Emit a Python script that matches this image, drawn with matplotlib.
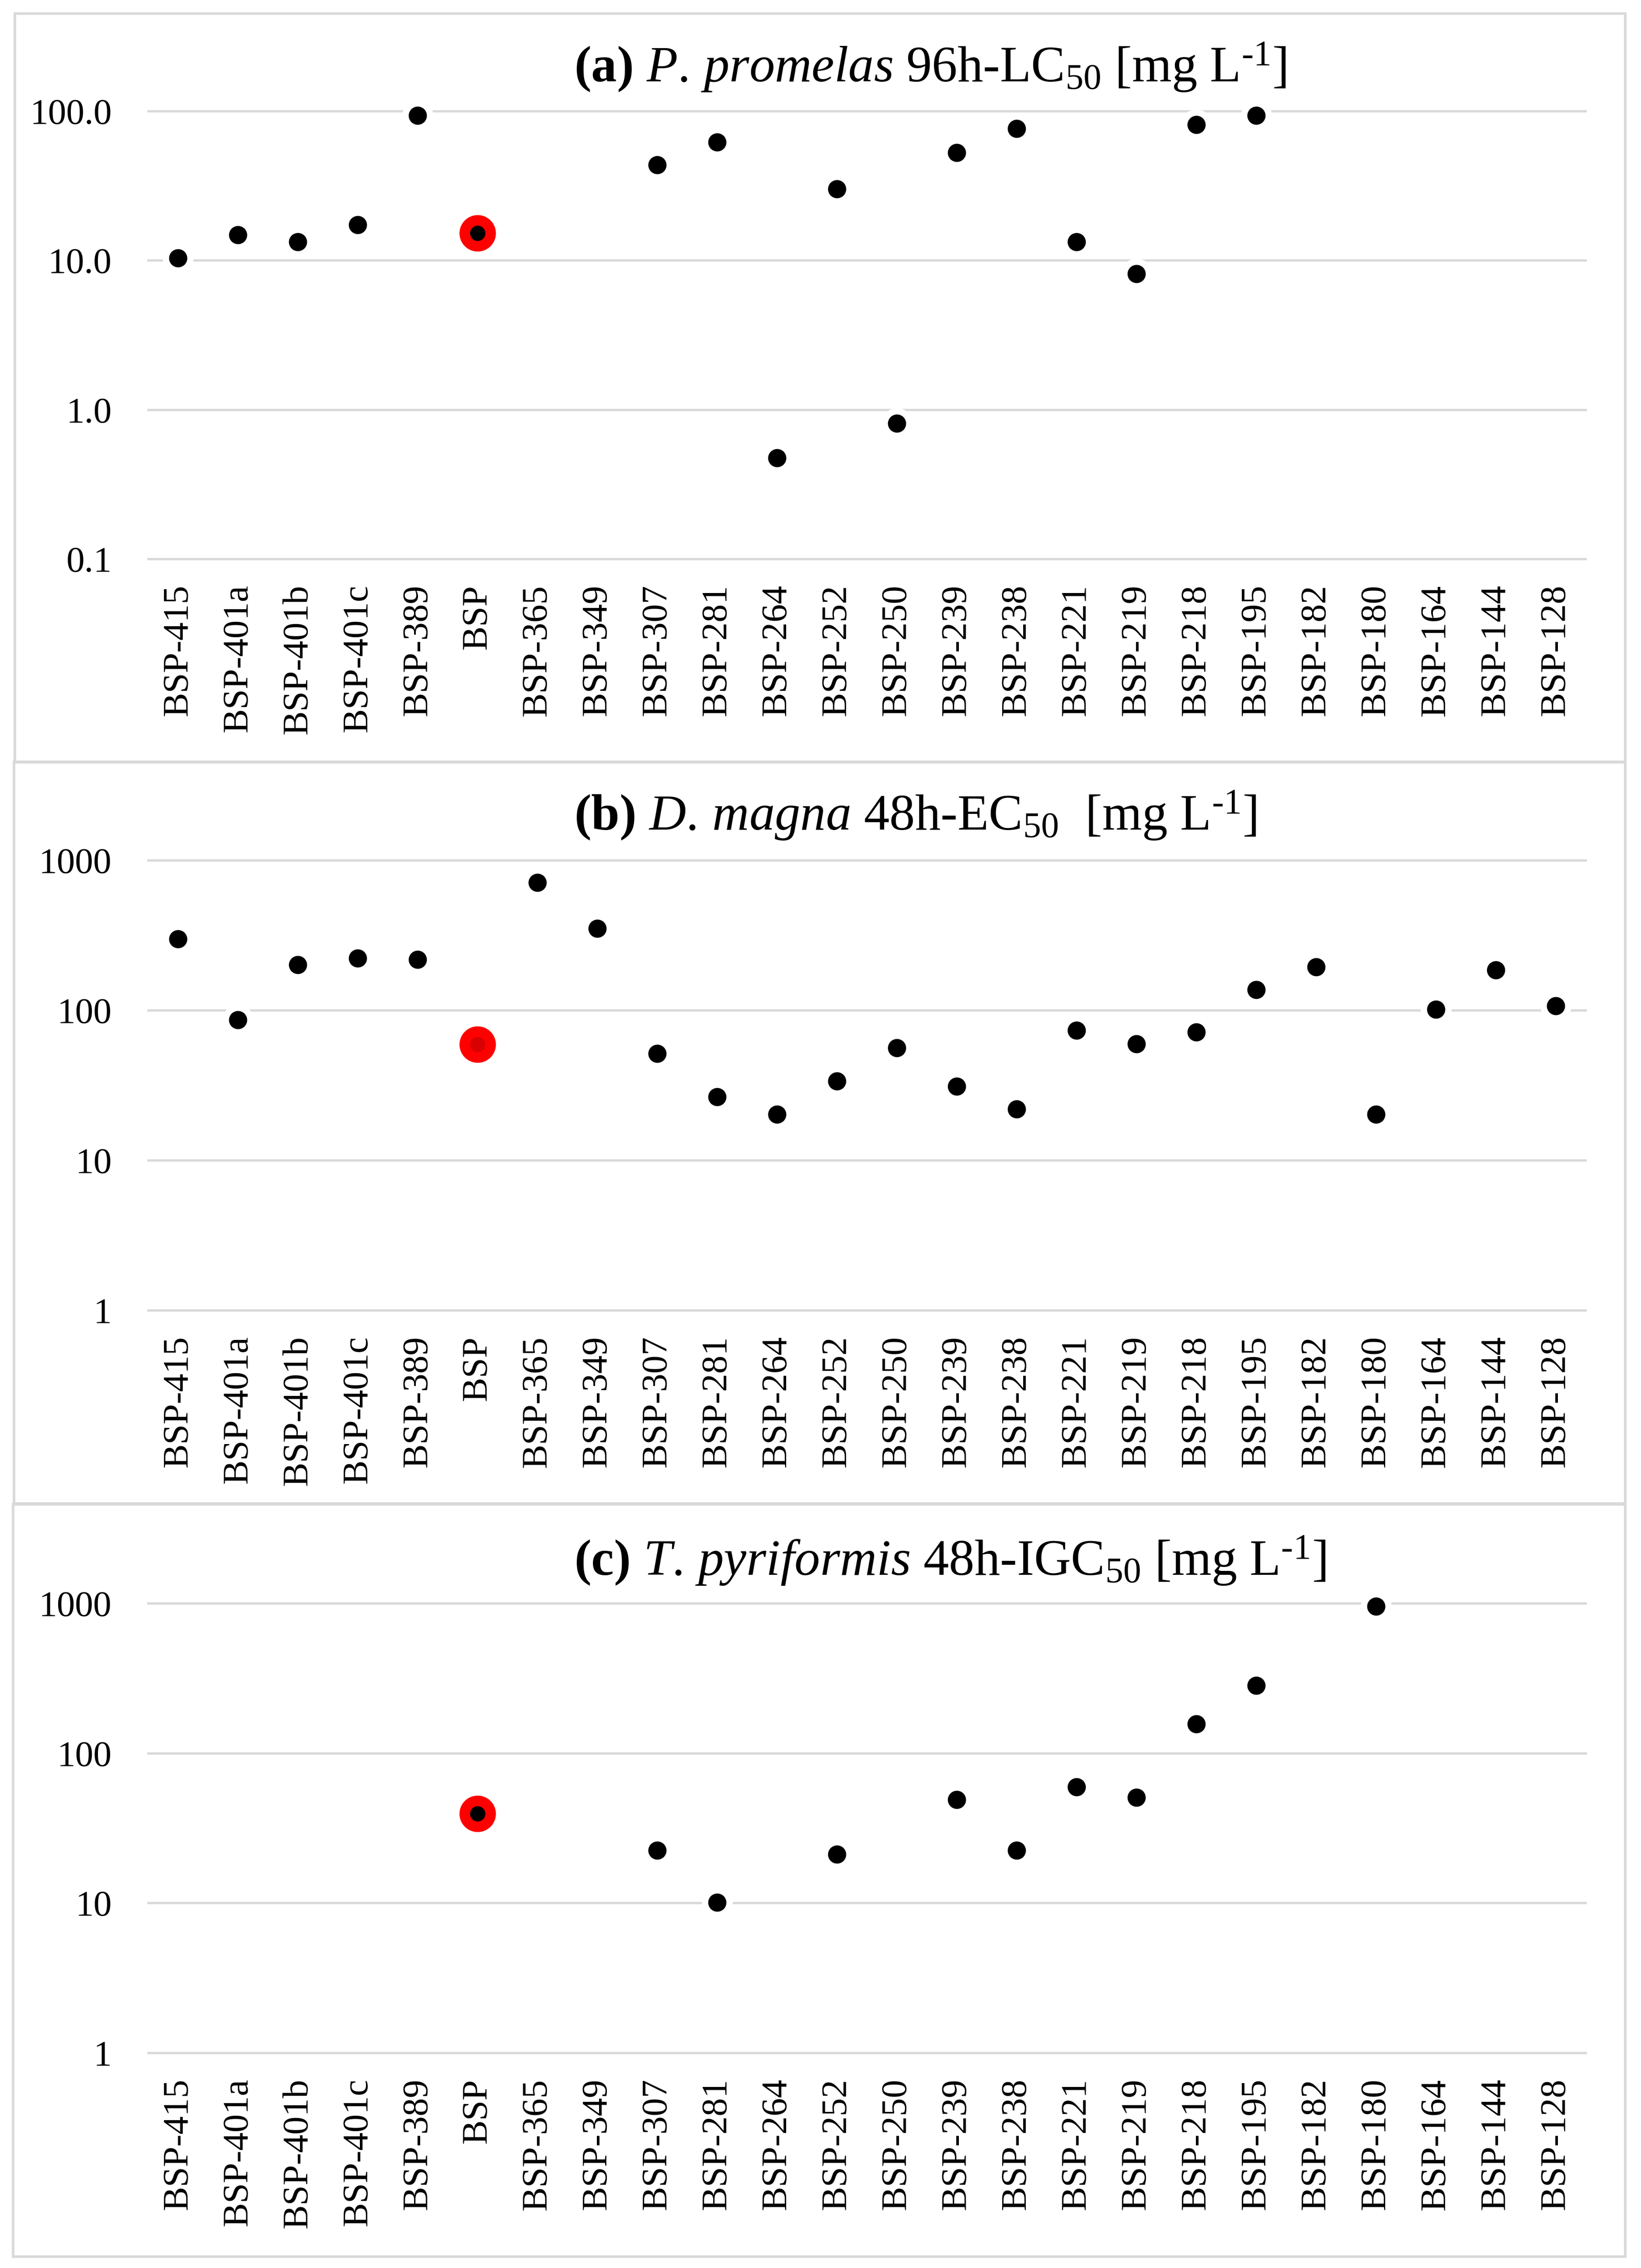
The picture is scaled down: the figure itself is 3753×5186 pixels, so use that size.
import numpy as np
import matplotlib
matplotlib.use("Agg")
import matplotlib.pyplot as plt
from matplotlib.patches import Rectangle

plt.rcParams['font.family'] = ['Liberation Serif', 'DejaVu Serif']
plt.rcParams['mathtext.fontset'] = 'custom'
plt.rcParams['mathtext.rm'] = 'Liberation Serif'
plt.rcParams['mathtext.it'] = 'Liberation Serif:italic'
plt.rcParams['mathtext.bf'] = 'Liberation Serif:bold'

categories = ["BSP-415", "BSP-401a", "BSP-401b", "BSP-401c", "BSP-389", "BSP",
              "BSP-365", "BSP-349", "BSP-307", "BSP-281", "BSP-264", "BSP-252",
              "BSP-250", "BSP-239", "BSP-238", "BSP-221", "BSP-219", "BSP-218",
              "BSP-195", "BSP-182", "BSP-180", "BSP-164", "BSP-144", "BSP-128"]
nan = np.nan
# (a) P. promelas 96h-LC50 [mg/L]
promelas_lc50 = [10.4, 14.8, 13.3, 17.3, 93.4, 15.2,
                 nan, nan, 43.5, 61.9, 0.476, 30.1,
                 0.81, 52.7, 76.6, 13.3, 8.15, 81.0,
                 93.4, nan, nan, nan, nan, nan]
# (b) D. magna 48h-EC50 [mg/L]
magna_ec50 = [299, 86, 201, 223, 218, 59.2,
              708, 352, 51.6, 26.5, 20.2, 33.7,
              56.1, 31.0, 22.0, 73.5, 59.6, 71.3,
              137, 194, 20.2, 101.5, 185, 107]
# (c) T. pyriformis 48h-IGC50 [mg/L]
pyriformis_igc50 = [nan, nan, nan, nan, nan, 39.5,
                    nan, nan, 22.4, 10.1, nan, 21.2,
                    nan, 49.0, 22.4, 59.3, 50.5, 156,
                    282, nan, 955, nan, nan, nan]

titles = [r"$\mathbf{(a)}$ $\mathit{P.\,promelas}$ 96h-LC$_{50}$ [mg L$^{\text{-}1}$]",
          r"$\mathbf{(b)}$ $\mathit{D.\,magna}$ 48h-EC$_{50}$  [mg L$^{\text{-}1}$]",
          r"$\mathbf{(c)}$ $\mathit{T.\,pyriformis}$ 48h-IGC$_{50}$ [mg L$^{\text{-}1}$]"]
ytick_vals = [[0.1, 1, 10, 100], [1, 10, 100, 1000], [1, 10, 100, 1000]]
ytick_labels = [["0.1", "1.0", "10.0", "100.0"],
                ["1", "10", "100", "1000"],
                ["1", "10", "100", "1000"]]
highlight = "BSP"
center_colors = ["black", "#D80000", "black"]

W, H = 3753, 5186
dpi = 300
fig = plt.figure(figsize=(W / dpi, H / dpi), dpi=dpi)

# pixel layout
ax_left, ax_right = 339, 3626
ax_tops = [254, 1967, 3666]
ax_bots = [1278, 2996, 4694]
panel_boxes = [(34, 31, 3717, 1743), (32, 1742, 3717, 3438), (30, 3440, 3717, 5160)]
title_y = [154, 1865, 3569]
title_x = 1313

grid_c = "#D9D9D9"
series = [promelas_lc50, magna_ec50, pyriformis_igc50]
x = np.arange(len(categories))
hi = categories.index(highlight)

for i in range(3):
    x0, y0, x1, y1 = panel_boxes[i]
    fig.patches.append(Rectangle((x0 / W, 1 - y1 / H), (x1 - x0) / W, (y1 - y0) / H,
                                 transform=fig.transFigure, fill=False,
                                 edgecolor="#D9D9D9", linewidth=1.4, zorder=0))
    ax = fig.add_axes([ax_left / W, 1 - ax_bots[i] / H,
                       (ax_right - ax_left) / W, (ax_bots[i] - ax_tops[i]) / H])
    ax.set_yscale('log')
    ax.set_ylim(ytick_vals[i][0], ytick_vals[i][-1])
    ax.set_xlim(-0.5, len(categories) - 0.5)
    ax.set_yticks(ytick_vals[i])
    ax.set_yticklabels(ytick_labels[i])
    ax.yaxis.set_minor_locator(matplotlib.ticker.NullLocator())
    ax.set_xticks(x)
    ax.set_xticklabels(categories, rotation=90, va='top', ha='center')
    ax.tick_params(axis='both', length=0, labelsize=20)
    ax.tick_params(axis='y', pad=20)
    ax.tick_params(axis='x', pad=14)
    for s in ax.spines.values():
        s.set_visible(False)
    ax.set_facecolor('none')
    for v in ytick_vals[i]:
        ax.axhline(v, color=grid_c, lw=1.3, zorder=1, clip_on=False)
    vals = np.array(series[i], dtype=float)
    ax.plot(x, vals, linestyle='none', marker='o', ms=13.5, mfc='black',
            mec='white', mew=3.5, zorder=3, clip_on=False)
    ax.plot([x[hi]], [vals[hi]], linestyle='none', marker='o', ms=23.5, mfc='#FF0000',
            mec='white', mew=3.5, zorder=4, clip_on=False)
    ax.plot([x[hi]], [vals[hi]], linestyle='none', marker='o', ms=8.4,
            mfc=center_colors[i], mec='none', zorder=5, clip_on=False)
    fig.text(title_x / W, 1 - title_y[i] / H, titles[i], fontsize=28,
             ha='left', va='center')

fig.savefig("out.png", dpi=dpi, facecolor='white')
